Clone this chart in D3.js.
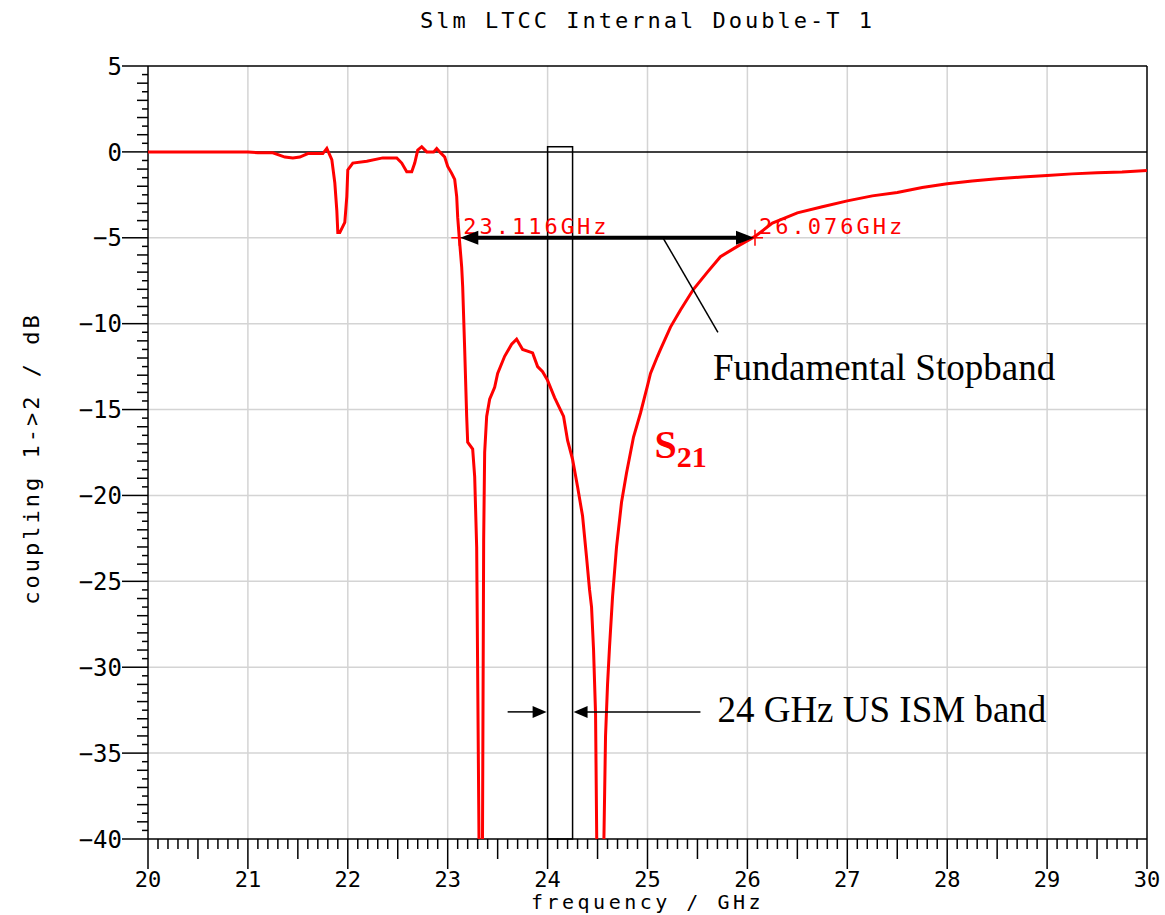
<!DOCTYPE html>
<html>
<head>
<meta charset="utf-8">
<script src="https://cdn.jsdelivr.net/npm/d3@7"></script>
<style>
  body { margin: 0; background: #fff; }
  svg { display: block; }
  .mono { font-family: "DejaVu Sans Mono", monospace; }
</style>
</head>
<body>
<svg id="chart" width="1165" height="915"></svg>
<script>
// ---- data ----
const title = "Slm LTCC Internal Double-T 1";
const xLabel = "frequency / GHz";
const yLabel = "coupling 1->2 / dB";
const xTicks = [20, 21, 22, 23, 24, 25, 26, 27, 28, 29, 30];
const yTicks = [5, 0, -5, -10, -15, -20, -25, -30, -35, -40];
const freq = [20, 21, 21.1, 21.25, 21.37, 21.45, 21.52, 21.6, 21.75, 21.79, 21.84, 21.87, 21.89, 21.9, 21.92, 21.97, 21.99, 22.0, 22.05, 22.19, 22.35, 22.49, 22.54, 22.59, 22.64, 22.67, 22.7, 22.74, 22.79, 22.86, 22.89, 22.92, 22.97, 23.0, 23.04, 23.07, 23.09, 23.1, 23.116, 23.14, 23.15, 23.17, 23.19, 23.2, 23.25, 23.27, 23.29, 23.32, 23.345, 23.36, 23.37, 23.39, 23.42, 23.47, 23.5, 23.57, 23.64, 23.69, 23.75, 23.85, 23.9, 23.95, 24.0, 24.07, 24.16, 24.2, 24.25, 24.3, 24.35, 24.39, 24.42, 24.44, 24.46, 24.48, 24.5, 24.55, 24.58, 24.6, 24.62, 24.65, 24.69, 24.74, 24.79, 24.86, 24.93, 25.0, 25.03, 25.1, 25.13, 25.23, 25.33, 25.46, 25.6, 25.73, 25.9, 26.076, 26.25, 26.5, 26.75, 27, 27.25, 27.5, 27.75, 28, 28.25, 28.5, 28.75, 29, 29.25, 29.5, 29.75, 30];
const s21 = [0, 0, -0.05, -0.05, -0.3, -0.35, -0.3, -0.1, -0.1, 0.2, -0.45, -1.8, -3.4, -4.7, -4.7, -4.1, -2.6, -1.05, -0.65, -0.55, -0.35, -0.35, -0.65, -1.15, -1.15, -0.65, 0.1, 0.3, 0, 0, 0.2, 0, -0.3, -0.85, -1.25, -1.6, -2.6, -3.8, -5.0, -6.7, -7.85, -11.5, -15.4, -16.9, -17.3, -18.9, -23.0, -45, -45, -22.6, -17.5, -15.4, -14.4, -13.7, -12.9, -11.9, -11.2, -10.9, -11.5, -11.7, -12.5, -12.8, -13.3, -14.3, -15.4, -16.8, -17.9, -19.5, -21.2, -23.6, -25.5, -26.5, -29, -32.7, -45, -45, -34, -31, -28.8, -25.9, -23.0, -20.4, -18.7, -16.6, -15.2, -13.6, -12.9, -11.9, -11.5, -10.2, -9.2, -8.0, -7.0, -6.1, -5.5, -4.92, -4.15, -3.55, -3.19, -2.85, -2.56, -2.36, -2.07, -1.86, -1.7, -1.57, -1.46, -1.37, -1.28, -1.22, -1.17, -1.08];
const markerFreqs = [23.116, 26.076];
const markerLevel = -5;
const markerLabels = ["23.116GHz", "26.076GHz"];
const ismBand = [24.0, 24.25];

// ---- layout ----
const svg = d3.select("#chart");
const L = 148, R = 1147, T = 66, B = 839;
const x = d3.scaleLinear().domain([20, 30]).range([L, R]);
const y = d3.scaleLinear().domain([-40, 5]).range([B, T]);

svg.append("defs").append("clipPath").attr("id", "clip")
  .append("rect").attr("x", L).attr("y", T).attr("width", R - L).attr("height", B - T);

// grid
const gridColor = "#d4d4d4";
svg.append("g").selectAll("line").data(xTicks.filter(d => d > 20 && d < 30)).join("line")
  .attr("x1", d => x(d)).attr("x2", d => x(d)).attr("y1", T).attr("y2", B)
  .attr("stroke", gridColor).attr("stroke-width", 1.5);
svg.append("g").selectAll("line").data(yTicks.filter(d => d < 5 && d > -40 && d !== 0)).join("line")
  .attr("x1", L).attr("x2", R).attr("y1", d => y(d)).attr("y2", d => y(d))
  .attr("stroke", gridColor).attr("stroke-width", 1.5);

// frame: top, right, zero line
svg.append("line").attr("x1", L).attr("x2", R).attr("y1", y(5)).attr("y2", y(5)).attr("stroke", "#000").attr("stroke-width", 1.5);
svg.append("line").attr("x1", R).attr("x2", R).attr("y1", T).attr("y2", B).attr("stroke", "#000").attr("stroke-width", 1.5);
svg.append("line").attr("x1", L).attr("x2", R).attr("y1", y(0)).attr("y2", y(0)).attr("stroke", "#000").attr("stroke-width", 1.5);

// x axis
const xMinor = d3.range(200, 301).map(d => d / 10);
const xAxis = svg.append("g").attr("transform", `translate(0,${B})`);
xAxis.append("line").attr("x1", L).attr("x2", R).attr("stroke", "#000").attr("stroke-width", 1.5);
xAxis.selectAll("line.t").data(xMinor).join("line").attr("class", "t")
  .attr("x1", d => x(d)).attr("x2", d => x(d)).attr("y1", 0)
  .attr("y2", d => { const k = Math.round(d * 10); return k % 10 === 0 ? 30 : (k % 5 === 0 ? 20 : 10); })
  .attr("stroke", "#000").attr("stroke-width", 1.5);
xAxis.selectAll("text").data(xTicks).join("text").attr("class", "mono")
  .attr("x", d => x(d)).attr("y", 48).attr("text-anchor", "middle")
  .attr("font-size", 22).attr("fill", "#000").text(d => d);

// y axis
const yMinor = d3.range(-80, 11).map(d => d / 2);
const yAxis = svg.append("g").attr("transform", `translate(${L},0)`);
yAxis.append("line").attr("y1", T).attr("y2", B).attr("stroke", "#000").attr("stroke-width", 1.5);
yAxis.selectAll("line.t").data(yMinor).join("line").attr("class", "t")
  .attr("y1", d => y(d)).attr("y2", d => y(d)).attr("x1", 0)
  .attr("x2", d => d % 5 === 0 ? -26 : (Number.isInteger(d) ? -11 : -6))
  .attr("stroke", "#000").attr("stroke-width", 1.5);
yAxis.selectAll("text").data(yTicks).join("text").attr("class", "mono")
  .attr("x", -26).attr("y", d => y(d)).attr("dy", "0.36em").attr("text-anchor", "end")
  .attr("font-size", 24).attr("fill", "#000").text(d => d < 0 ? "\u2212" + Math.abs(d) : d);

// titles
svg.append("text").attr("class", "mono").attr("x", (L + R) / 2).attr("y", 28)
  .attr("text-anchor", "middle").attr("font-size", 22).attr("letter-spacing", 3).text(title);
svg.append("text").attr("class", "mono").attr("x", (L + R) / 2).attr("y", 909)
  .attr("text-anchor", "middle").attr("font-size", 20).attr("letter-spacing", 3.5).text(xLabel);
svg.append("text").attr("class", "mono").attr("transform", `translate(39,${(T + B) / 2 + 6}) rotate(-90)`)
  .attr("text-anchor", "middle").attr("font-size", 22).attr("letter-spacing", 3).text(yLabel);

// ISM band rectangle
svg.append("rect").attr("x", x(ismBand[0])).attr("y", y(0.3))
  .attr("width", x(ismBand[1]) - x(ismBand[0])).attr("height", y(-40) - y(0.3))
  .attr("fill", "none").attr("stroke", "#000").attr("stroke-width", 1.5);

// curve
const line = d3.line().x(d => x(d[0])).y(d => y(d[1]));
svg.append("path").datum(freq.map((f, i) => [f, s21[i]]))
  .attr("d", line).attr("fill", "none").attr("stroke", "#ff0000").attr("stroke-width", 3)
  .attr("stroke-linejoin", "miter").attr("clip-path", "url(#clip)");

// markers
markerFreqs.forEach((f, i) => {
  const cx = x(f), cy = y(markerLevel);
  svg.append("line").attr("x1", cx - 8).attr("x2", cx + 8).attr("y1", cy).attr("y2", cy).attr("stroke", "#ff0000").attr("stroke-width", 1.5);
  svg.append("line").attr("x1", cx).attr("x2", cx).attr("y1", cy - 8).attr("y2", cy + 8).attr("stroke", "#ff0000").attr("stroke-width", 1.5);
  svg.append("text").attr("class", "mono").attr("x", cx + 4).attr("y", cy - 4)
    .attr("font-size", 22).attr("letter-spacing", 3).attr("fill", "#ff0000").text(markerLabels[i]);
});

// arrow helper
function arrowHead(tipX, tipY, dir, len, half) {
  const bx = tipX - dir * len;
  return `M${tipX},${tipY}L${bx},${tipY - half}L${bx},${tipY + half}Z`;
}

// stopband double arrow
const ay = y(markerLevel);
const ax1 = x(markerFreqs[0]) + 1, ax2 = x(markerFreqs[1]) - 1;
svg.append("line").attr("x1", ax1 + 10).attr("x2", ax2 - 10).attr("y1", ay).attr("y2", ay).attr("stroke", "#000").attr("stroke-width", 4);
svg.append("path").attr("d", arrowHead(ax1, ay, -1, 18, 7)).attr("fill", "#000");
svg.append("path").attr("d", arrowHead(ax2, ay, 1, 18, 7)).attr("fill", "#000");
// leader line
svg.append("line").attr("x1", x(25.155)).attr("y1", ay).attr("x2", x(25.705)).attr("y2", y(-10.5))
  .attr("stroke", "#000").attr("stroke-width", 1.5);
svg.append("text").attr("x", x(25.655)).attr("y", y(-13.3))
  .attr("font-family", "Liberation Serif, Times New Roman, serif").attr("font-size", 37).text("Fundamental Stopband");

// S21
const s = svg.append("text").attr("x", x(25.07)).attr("y", y(-17.8))
  .attr("font-family", "Liberation Serif, Times New Roman, serif").attr("font-weight", "bold").attr("fill", "#ff0000");
s.append("tspan").attr("font-size", 40).text("S");
s.append("tspan").attr("font-size", 30).attr("dy", 9).text("21");

// ISM arrows
const iy = y(-32.6);
svg.append("line").attr("x1", x(23.6)).attr("x2", x(ismBand[0]) - 12).attr("y1", iy).attr("y2", iy).attr("stroke", "#000").attr("stroke-width", 1.5);
svg.append("path").attr("d", arrowHead(x(ismBand[0]) - 1, iy, 1, 14, 6)).attr("fill", "#000");
svg.append("line").attr("x1", x(25.53)).attr("x2", x(ismBand[1]) + 12).attr("y1", iy).attr("y2", iy).attr("stroke", "#000").attr("stroke-width", 1.5);
svg.append("path").attr("d", arrowHead(x(ismBand[1]) + 1, iy, -1, 14, 6)).attr("fill", "#000");
svg.append("text").attr("x", x(25.7)).attr("y", y(-33.2))
  .attr("font-family", "Liberation Serif, Times New Roman, serif").attr("font-size", 37).text("24 GHz US ISM band");
</script>
</body>
</html>
